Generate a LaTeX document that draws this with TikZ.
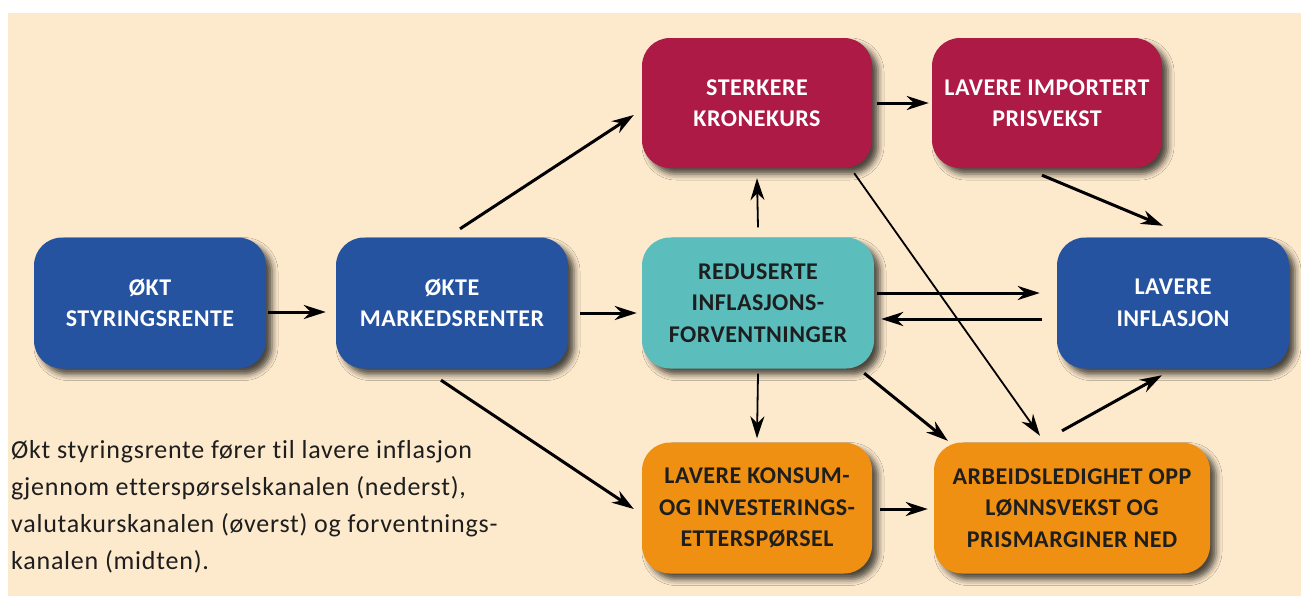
\documentclass[tikz,border=0pt]{standalone}
\usepackage{fontspec}
\setmainfont{Carlito}
\newfontfamily\boxfont[LetterSpace=2]{Carlito}
\newfontfamily\notefont[LetterSpace=3,Ligatures=NoCommon]{Carlito}
\usetikzlibrary{arrows.meta,shadows.blur}

\definecolor{paper}{HTML}{FDEACD}
\definecolor{rateblue}{HTML}{2553A0}
\definecolor{krone}{HTML}{AC1A45}
\definecolor{expteal}{HTML}{5BBDBC}
\definecolor{demand}{HTML}{EF9012}
\definecolor{ink}{HTML}{1E1E1E}

\begin{document}
\begin{tikzpicture}[x=1pt, y=-1pt,
  box/.style={rounded corners=28pt, minimum width=232pt, minimum height=131pt,
    inner sep=0pt, align=center,
    font=\boxfont\bfseries\fontsize{24}{31.5}\selectfont,
    blur shadow={shadow xshift=6pt, shadow yshift=-6pt,
      shadow blur radius=6pt, shadow opacity=70}},
  bluebox/.style={box, fill=rateblue, text=white},
  redbox/.style={box, fill=krone, text=white},
  tealbox/.style={box, fill=expteal, text=ink},
  orangebox/.style={box, fill=demand, text=ink},
  arr/.style={line width=3pt, -{Stealth[length=22pt, width=14pt, inset=7pt]}},
  thinarr/.style={line width=1.8pt, -{Stealth[length=22pt, width=14pt, inset=7pt]}}]

  \useasboundingbox (0,0) rectangle (1301,597);
  \fill[paper] (8,13) rectangle (1301,596);

  % the boxes
  \node[bluebox] (styring) at (150,303) {ØKT\\STYRINGSRENTE};
  \node[bluebox] (marked) at (452,303) {ØKTE\\MARKEDSRENTER};
  \node[tealbox] (forvent) at (758,303) {REDUSERTE\\INFLASJONS-\\FORVENTNINGER};
  \node[redbox, minimum width=230pt, minimum height=130pt] (krone) at (757,103)
    {STERKERE\\KRONEKURS};
  \node[redbox, minimum width=230pt, minimum height=130pt] (import) at (1047,103)
    {LAVERE IMPORTERT\\PRISVEKST};
  \node[bluebox] (infl) at (1173,303) {LAVERE\\INFLASJON};
  \node[orangebox, minimum width=230pt] (konsum) at (757,508)
    {LAVERE KONSUM-\\OG INVESTERINGS-\\ETTERSPØRSEL};
  \node[orangebox, minimum width=276pt] (arbeid) at (1072,508)
    {ARBEIDSLEDIGHET OPP\\LØNNSVEKST OG\\PRISMARGINER NED};

  % caption
  \node[anchor=north west, inner sep=0pt, align=left, text=ink,
    font=\notefont\fontsize{26}{37}\selectfont] (tekst) at (11,440)
    {Økt styringsrente fører til lavere inflasjon\\
     gjennom etterspørselskanalen (nederst),\\
     valutakurskanalen (øverst) og forventnings-\\
     kanalen (midten).};

  % arrows
  \draw[arr] ([shift={(2pt,-9pt)}]styring.east) -- ([shift={(-10pt,-9pt)}]marked.west);
  \draw[arr] ([shift={(12pt,-10pt)}]marked.east) -- ([shift={(-5pt,-10pt)}]forvent.west);
  \draw[arr] ([shift={(8pt,8.5pt)}]marked.north) -- ([shift={(-8pt,-12pt)}]krone.west);
  \draw[arr] ([shift={(-11pt,-11.5pt)}]marked.south) -- ([shift={(-8pt,-1pt)}]konsum.west);
  \draw[thinarr] ([yshift=10pt]forvent.north) -- ([yshift=-10pt]krone.south);
  \draw[thinarr] ([yshift=-5pt]forvent.south) -- ([yshift=4pt]konsum.north);
  \draw[arr] ([shift={(3pt,10pt)}]forvent.east) -- ([shift={(-17pt,10pt)}]infl.west);
  \draw[arr] ([shift={(-15pt,-16pt)}]infl.west) -- ([shift={(7pt,-16pt)}]forvent.east);
  \draw[arr] ([shift={(-10pt,-4.5pt)}]forvent.south east) -- ([shift={(14pt,1.5pt)}]arbeid.north west);
  \draw[thinarr] ([shift={(-18pt,-5pt)}]krone.south east) -- ([shift={(-32pt,6.5pt)}]arbeid.north);
  \draw[arr] ([xshift=5pt]krone.east) -- ([xshift=-3pt]import.west);
  \draw[arr] ([shift={(-5pt,-7pt)}]import.south) -- ([shift={(-10pt,11.5pt)}]infl.north);
  \draw[arr] ([shift={(8pt,-1pt)}]konsum.east) -- ([shift={(-6pt,-1pt)}]arbeid.west);
  \draw[arr] ([shift={(-10pt,11.5pt)}]arbeid.north) -- ([shift={(-11pt,-6.5pt)}]infl.south);

\end{tikzpicture}
\end{document}
